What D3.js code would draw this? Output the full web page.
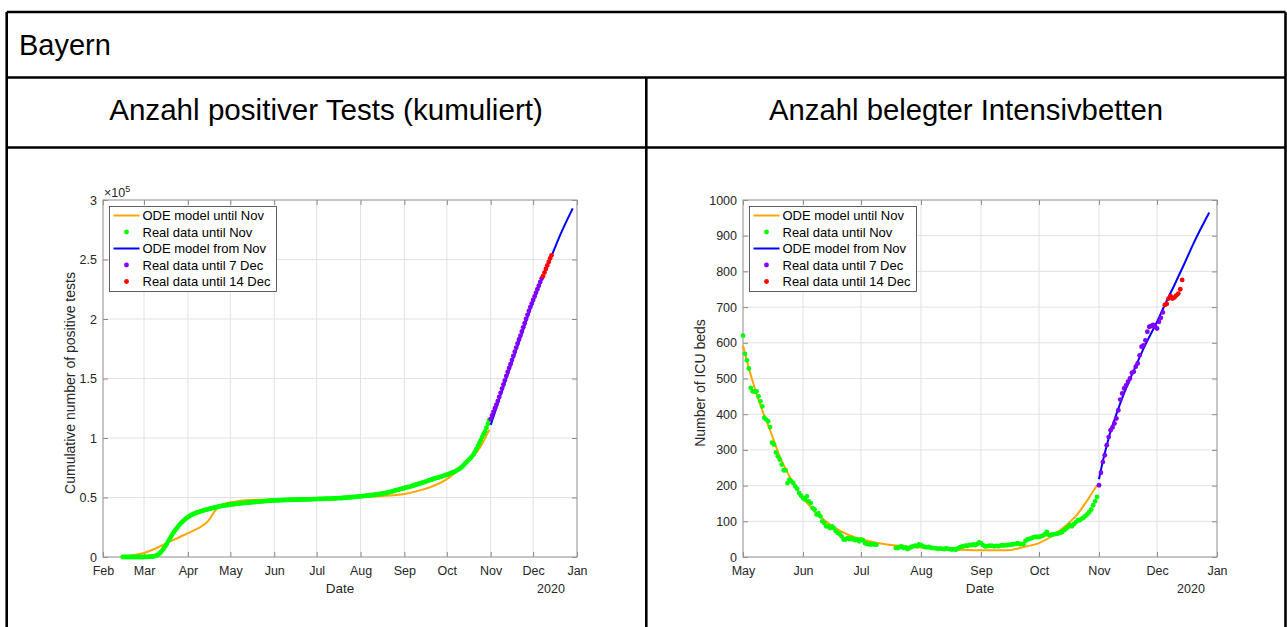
<!DOCTYPE html>
<html>
<head>
<meta charset="utf-8">
<script src="https://cdn.jsdelivr.net/npm/d3@7"></script>
<style>
  body { margin: 0; background: #fff; }
  svg { display: block; font-family: "Liberation Sans", Arial, Helvetica, sans-serif; }
</style>
</head>
<body>
<svg id="chart" width="1287" height="627"></svg>
<script>
// ---------------- data ----------------
// Left panel: cumulative positive tests, values in thousands
let testsGreenStart = "2020-02-15";
let testsGreen = [
  0.0,0.0,0.0,0.0,0.0,0.0,0.0,0.0,0.0,0.0,0.0,0.0,0.0,0.0,0.0,
  0.0,0.1,0.1,0.1,0.2,0.3,0.4,0.6,
  0.9,1.3,2.0,3.0,4.2,5.6,7.2,9.0,11.0,13.0,15.0,17.0,19.0,20.8,22.5,24.0,25.5,27.0,28.3,29.5,30.6,31.6,32.6,
  33.5,34.3,35.0,35.6,36.2,36.7,37.2,37.6,38.0,38.4,38.8,39.1,39.5,39.8,40.1,40.4,40.7,41.0,41.3,41.6,41.9,42.2,42.5,42.7,42.9,43.1,43.3,43.5,43.7,43.9,
  44.0,44.2,44.3,44.5,44.6,44.8,44.9,45.0,45.2,45.3,45.4,45.5,45.6,45.8,45.9,46.0,46.1,46.2,46.3,46.4,46.5,46.6,46.7,46.8,46.9,47.0,47.1,47.2,47.3,47.4,47.5,
  47.5,47.6,47.6,47.7,47.7,47.8,47.8,47.9,47.9,48.0,48.0,48.0,48.1,48.1,48.1,48.2,48.2,48.2,48.3,48.3,48.3,48.4,48.4,48.4,48.5,48.5,48.5,48.6,48.6,48.7,
  48.7,48.8,48.8,48.8,48.9,48.9,49.0,49.0,49.0,49.1,49.1,49.2,49.2,49.3,49.3,49.4,49.5,49.5,49.6,49.7,49.8,49.9,50.0,50.1,50.2,50.3,50.4,50.5,50.6,50.7,50.9,
  51.0,51.1,51.2,51.3,51.5,51.6,51.7,51.9,52.0,52.1,52.3,52.4,52.6,52.8,53.0,53.2,53.4,53.6,53.8,54.1,54.4,54.7,55.0,55.3,55.7,56.0,56.4,56.7,57.0,57.3,57.6,
  58.0,58.3,58.6,58.9,59.2,59.5,59.9,60.3,60.7,61.0,61.4,61.8,62.2,62.6,63.0,63.4,63.8,64.2,64.6,65.0,65.4,65.8,66.2,66.5,66.8,67.2,67.6,68.0,68.4,68.8,
  69.2,69.6,70.0,70.5,71.0,71.5,72.0,72.7,73.4,74.2,75.0,76.0,77.4,78.6,79.8,81.0,82.2,83.4,84.8,86.6,88.6,91.0,93.4,95.8,98.2,100.8,103.2,105.6,108.6,111.8,115.0
];
let testsPurpleStart = "2020-11-01";
let testsPurple = [
  116,119,122,125,128,131,134.5,138,141.5,145,148.5,152,155.5,158.8,
  162,165.5,169,172.5,176,179.5,182.8,186,189.5,193,196.5,200,203.5,206.8,210,213,
  216,219,222,225,228,231,234
];
let testsRedStart = "2020-12-08";
let testsRed = [236,239,242,245,248,251,253.5];
let testsModelUntil = [
  ["2020-02-15",0],["2020-02-22",1.5],["2020-03-01",3.4],["2020-03-08",6.5],["2020-03-15",10.5],
  ["2020-03-22",14.5],["2020-04-01",20],["2020-04-08",24],["2020-04-15",30],["2020-04-17",33],
  ["2020-04-20",38.5],["2020-04-23",42.5],["2020-04-27",44.8],["2020-05-01",46],["2020-05-08",47.2],
  ["2020-05-15",47.9],["2020-06-01",48.5],["2020-06-15",48.8],["2020-07-01",49],["2020-07-15",49.5],
  ["2020-08-01",50.5],["2020-08-15",51.2],["2020-09-01",53],["2020-09-15",57],["2020-10-01",65.5],
  ["2020-10-08",72],["2020-10-15",79],["2020-10-20",85],["2020-10-25",93],["2020-10-31",107]
];
let testsModelFrom = [
  ["2020-11-01",111],["2020-11-08",136],["2020-11-15",160],["2020-11-22",184],["2020-11-29",208],
  ["2020-12-07",233],["2020-12-14",253],["2020-12-21",273],["2020-12-29",293]
];

// Right panel: occupied ICU beds
let icuGreenStart1 = "2020-05-01";
let icuGreen1 = [
  620,569,551,528,474,464,463,464,450,436,422,390,385,380,364,320,315,293,282,273,259,243,243,207,217,212,207,198,191,179,172,
  165,161,170,156,151,137,133,119,123,114,100,95,86,86,81,86,81,72,67,65,58,49,49,53,50,53,49,47,49,44,
  49,47,39,37,36,35,36,35,34
];
let icuGreenStart2 = "2020-07-19";
let icuGreen2 = [
  25,25,28,30,25,27,22,25,28,30,32,30,35,
  33,30,28,27,28,26,25,25,24,23,24,23,22,24,23,22,21,22,20,24,27,29,30,32,31,34,33,35,33,36,41,
  39,33,30,30,31,32,31,30,31,30,32,33,32,33,34,34,35,36,37,39,36,37,36,45,49,51,52,55,56,56,
  56,58,60,63,70,62,61,63,64,65,66,68,70,75,79,84,89,86,92,97,103,103,107,110,115,120,126,133,145,156,168
];
let icuPurpleStart = "2020-11-01";
let icuPurple = [
  201,236,266,285,313,336,355,363,374,388,411,441,458,472,481,491,500,516,519,533,
  542,565,589,593,607,631,645,647,650,645,640,659,670,685
];
let icuRedStart = "2020-12-05";
let icuRed = [706,709,724,731,724,727,733,738,750,776];
let icuModelUntil = [
  ["2020-05-01",592],["2020-05-05",510],["2020-05-11",410],["2020-05-15",355],["2020-05-20",282],
  ["2020-05-28",198],["2020-06-06",133],["2020-06-15",91],["2020-06-24",63],["2020-07-03",47],
  ["2020-07-12",37],["2020-07-28",28],["2020-08-15",22],["2020-09-01",19],["2020-09-15",19],
  ["2020-09-23",28],["2020-10-01",39],["2020-10-07",56],["2020-10-14",84],["2020-10-21",121],
  ["2020-10-26",159],["2020-10-31",201]
];
let icuModelFrom = [
  ["2020-11-01",218],["2020-11-03",268],["2020-11-05",312],["2020-11-07",352],["2020-11-10",400],
  ["2020-11-13",445],["2020-11-16",485],["2020-11-20",535],["2020-11-25",595],["2020-12-01",659],
  ["2020-12-05",706],["2020-12-10",762],["2020-12-15",820],["2020-12-20",880],["2020-12-28",965]
];

let legendLabels = ["ODE model until Nov", "Real data until Nov", "ODE model from Nov",
                    "Real data until 7 Dec", "Real data until 14 Dec"];
let legendKinds = ["line", "dot", "line", "dot", "dot"];
let seriesColors = ["#ffa500", "#00ff00", "#0000ff", "#8000ff", "#ff0000"];

// ---------------- helpers ----------------
let parse = d3.timeParse("%Y-%m-%d");
function daily(start, values) {
  let d0 = parse(start);
  return values.map((v, i) => ({ date: d3.timeDay.offset(d0, i), value: v }));
}
function knots(arr) {
  return arr.map(d => ({ date: parse(d[0]), value: d[1] }));
}

let svg = d3.select("#chart");
let FONT_TICK = 12.5;

// ---------------- table frame ----------------
let frame = svg.append("g").attr("stroke", "#000").attr("stroke-width", 2.6);
frame.append("line").attr("x1", 6.7).attr("x2", 1285.5).attr("y1", 12).attr("y2", 12);
frame.append("line").attr("x1", 6.7).attr("x2", 6.7).attr("y1", 12).attr("y2", 640);
frame.append("line").attr("x1", 1285.5).attr("x2", 1285.5).attr("y1", 12).attr("y2", 640);
frame.append("line").attr("x1", 6.7).attr("x2", 1285.5).attr("y1", 77.5).attr("y2", 77.5);
frame.append("line").attr("x1", 6.7).attr("x2", 1285.5).attr("y1", 147.5).attr("y2", 147.5);
frame.append("line").attr("x1", 646.3).attr("x2", 646.3).attr("y1", 77.5).attr("y2", 640);

svg.append("text").attr("x", 19).attr("y", 55).attr("font-size", 29).attr("fill", "#000").text("Bayern");
svg.append("text").attr("x", 326).attr("y", 120).attr("font-size", 29.6).attr("text-anchor", "middle")
  .text("Anzahl positiver Tests (kumuliert)");
svg.append("text").attr("x", 966).attr("y", 120).attr("font-size", 29.3).attr("text-anchor", "middle")
  .text("Anzahl belegter Intensivbetten");

// ---------------- panel drawing ----------------
function drawPanel(p) {
  let left = p.left, right = p.left + 474, top = 200, bottom = 557;
  let x = d3.scaleTime().domain([parse(p.xStart), parse("2021-01-01")]).range([left, right]);
  let y = d3.scaleLinear().domain([0, p.yMax]).range([bottom, top]);
  let months = d3.timeMonth.range(parse(p.xStart), d3.timeDay.offset(parse("2021-01-01"), 1));
  let yTicks = d3.range(0, p.yMax + 1e-9, p.yStep);

  let g = svg.append("g");

  // grid
  g.append("g").selectAll("line").data(months).join("line")
    .attr("x1", d => x(d)).attr("x2", d => x(d)).attr("y1", top).attr("y2", bottom)
    .attr("stroke", "#e2e2e2").attr("stroke-width", 1);
  g.append("g").selectAll("line").data(yTicks).join("line")
    .attr("x1", left).attr("x2", right).attr("y1", d => y(d)).attr("y2", d => y(d))
    .attr("stroke", "#e2e2e2").attr("stroke-width", 1);

  // axes
  let axB = g.append("g").attr("transform", `translate(0,${bottom})`)
    .call(d3.axisBottom(x).tickValues(months).tickFormat(d3.timeFormat("%b"))
      .tickSizeInner(-5).tickSizeOuter(0).tickPadding(9));
  let axT = g.append("g").attr("transform", `translate(0,${top})`)
    .call(d3.axisTop(x).tickValues(months).tickFormat("").tickSizeInner(-5).tickSizeOuter(0));
  let axL = g.append("g").attr("transform", `translate(${left},0)`)
    .call(d3.axisLeft(y).tickValues(yTicks).tickFormat(p.yFmt)
      .tickSizeInner(-5).tickSizeOuter(0).tickPadding(6));
  let axR = g.append("g").attr("transform", `translate(${right},0)`)
    .call(d3.axisRight(y).tickValues(yTicks).tickFormat("").tickSizeInner(-5).tickSizeOuter(0));
  [axB, axT, axL, axR].forEach(a => {
    a.select(".domain").remove();
    a.selectAll(".tick line").attr("stroke", "#8a8a8a");
    a.selectAll(".tick text").attr("fill", "#262626").attr("font-size", FONT_TICK)
      .attr("font-family", "Liberation Sans, Arial, sans-serif");
  });
  g.append("rect").attr("x", left).attr("y", top).attr("width", right - left).attr("height", bottom - top)
    .attr("fill", "none").attr("stroke", "#9a9a9a").attr("stroke-width", 1);

  // labels
  g.append("text").attr("x", (left + right) / 2).attr("y", 593).attr("text-anchor", "middle")
    .attr("font-size", 13.5).attr("fill", "#262626").text("Date");
  g.append("text").attr("x", left + 448).attr("y", 593).attr("text-anchor", "middle")
    .attr("font-size", FONT_TICK).attr("fill", "#262626").text("2020");
  g.append("text").attr("transform", `translate(${left - p.ylabelOff},383) rotate(-90)`)
    .attr("text-anchor", "middle").attr("font-size", 14).attr("fill", "#262626").text(p.ylabel);
  if (p.exponent) {
    let t = g.append("text").attr("x", left + 1).attr("y", 197).attr("font-size", FONT_TICK).attr("fill", "#262626");
    t.append("tspan").text("\u00d710");
    t.append("tspan").attr("dy", -5).attr("font-size", 9).text(p.exponent);
  }

  // model lines
  let line = d3.line().x(d => x(d.date)).y(d => y(d.value)).curve(d3.curveMonotoneX);
  g.append("path").datum(knots(p.modelUntil)).attr("d", line)
    .attr("fill", "none").attr("stroke", seriesColors[0]).attr("stroke-width", 2);

  // real data dots
  function dots(data, color) {
    g.append("g").selectAll("circle").data(data).join("circle")
      .attr("cx", d => x(d.date)).attr("cy", d => y(d.value)).attr("r", 2.4).attr("fill", color);
  }
  p.green.forEach(s => dots(s, seriesColors[1]));
  g.append("path").datum(knots(p.modelFrom)).attr("d", line)
    .attr("fill", "none").attr("stroke", seriesColors[2]).attr("stroke-width", 2);
  dots(p.purple, seriesColors[3]);
  dots(p.red, seriesColors[4]);

  // legend
  let lg = g.append("g").attr("transform", `translate(${left + 6.5},206.5)`);
  lg.append("rect").attr("width", 167).attr("height", 85).attr("fill", "#fff")
    .attr("stroke", "#3a3a3a").attr("stroke-width", 0.8);
  legendLabels.forEach((lab, i) => {
    let cy = 9 + i * 16.5;
    if (legendKinds[i] === "line") {
      lg.append("line").attr("x1", 4).attr("x2", 30).attr("y1", cy).attr("y2", cy)
        .attr("stroke", seriesColors[i]).attr("stroke-width", 2);
    } else {
      lg.append("circle").attr("cx", 17).attr("cy", cy).attr("r", 2.4).attr("fill", seriesColors[i]);
    }
    lg.append("text").attr("x", 33).attr("y", cy).attr("dy", "0.35em").attr("font-size", 13)
      .attr("fill", "#000").text(lab);
  });
}

drawPanel({
  left: 103, xStart: "2020-02-01", yMax: 300, yStep: 50,
  yFmt: d => d3.format("~g")(d / 100), exponent: "5",
  ylabel: "Cumulative number of positive tests", ylabelOff: 28,
  green: [daily(testsGreenStart, testsGreen)],
  purple: daily(testsPurpleStart, testsPurple),
  red: daily(testsRedStart, testsRed),
  modelUntil: testsModelUntil, modelFrom: testsModelFrom
});

drawPanel({
  left: 743, xStart: "2020-05-01", yMax: 1000, yStep: 100,
  yFmt: d3.format("d"), exponent: null,
  ylabel: "Number of ICU beds", ylabelOff: 38,
  green: [daily(icuGreenStart1, icuGreen1), daily(icuGreenStart2, icuGreen2)],
  purple: daily(icuPurpleStart, icuPurple),
  red: daily(icuRedStart, icuRed),
  modelUntil: icuModelUntil, modelFrom: icuModelFrom
});
</script>
</body>
</html>
